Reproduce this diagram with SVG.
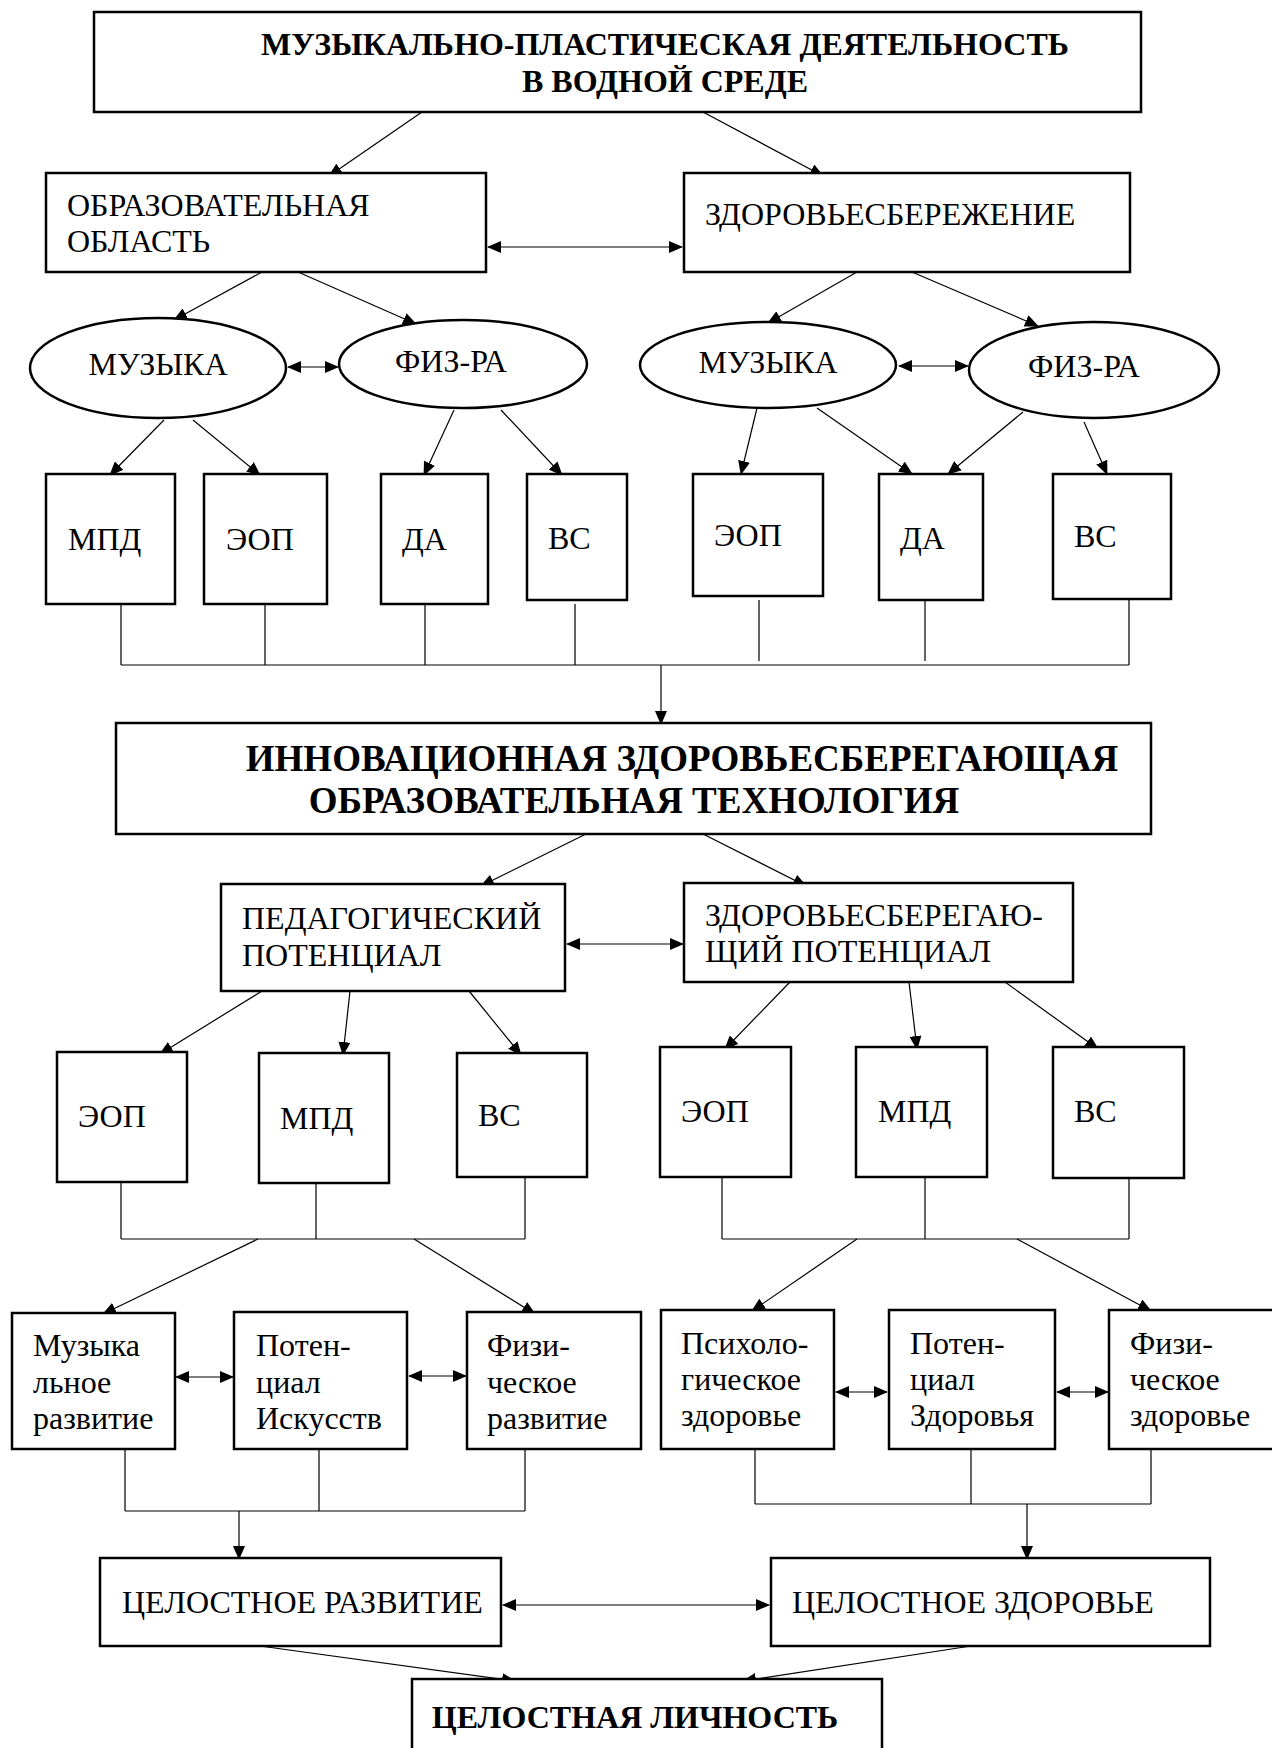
<svg xmlns="http://www.w3.org/2000/svg" width="1272" height="1748" viewBox="0 0 1272 1748">
<defs>
<marker id="ah" viewBox="0 0 14 12" refX="13" refY="6" markerWidth="14" markerHeight="12" markerUnits="userSpaceOnUse" orient="auto-start-reverse"><path d="M0,0 L14,6 L0,12 z" fill="#000"/></marker>
<style>
.box{fill:#fff;stroke:#000;stroke-width:2.5}
.ell{fill:#fff;stroke:#000;stroke-width:2.5}
.c{fill:none;stroke:#000;stroke-width:1.2}
.a{fill:none;stroke:#000;stroke-width:1.2;marker-end:url(#ah)}
.d{fill:none;stroke:#000;stroke-width:1.2;marker-start:url(#ah);marker-end:url(#ah)}
.t{font-family:"Liberation Serif","Times New Roman",serif;font-size:32px;fill:#000}
.b{font-family:"Liberation Serif","Times New Roman",serif;font-size:32px;font-weight:bold;fill:#000}
.h{font-size:37px}
.m{text-anchor:middle}
</style>
</defs>
<rect width="1272" height="1748" fill="#fff"/>
<g id="connectors">
<line class="a" x1="422" y1="112" x2="329" y2="176"/>
<line class="a" x1="703" y1="112" x2="823" y2="176"/>
<line class="d" x1="488" y1="247" x2="682" y2="247"/>
<line class="a" x1="262" y1="272" x2="174" y2="320"/>
<line class="a" x1="298" y1="272" x2="416" y2="324"/>
<line class="a" x1="857" y1="272" x2="768" y2="323"/>
<line class="a" x1="912" y1="272" x2="1038" y2="326"/>
<line class="d" x1="288" y1="367" x2="338" y2="367"/>
<line class="d" x1="899" y1="366" x2="968" y2="366"/>
<line class="a" x1="164" y1="420" x2="110" y2="475"/>
<line class="a" x1="193" y1="420" x2="260" y2="475"/>
<line class="a" x1="454" y1="410" x2="424" y2="475"/>
<line class="a" x1="501" y1="410" x2="562" y2="475"/>
<line class="a" x1="757" y1="408" x2="741" y2="474"/>
<line class="a" x1="817" y1="408" x2="912" y2="474"/>
<line class="a" x1="1023" y1="412" x2="948" y2="474"/>
<line class="a" x1="1084" y1="422" x2="1107" y2="474"/>
<path class="c" d="M121,604 V665 M265,604 V665 M425,604 V665 M575,604 V665 M759,600 V661 M925,600 V661 M1129,599 V665 M121,665 H1129"/>
<line class="a" x1="661" y1="665" x2="661" y2="724"/>
<line class="a" x1="586" y1="834" x2="481" y2="886"/>
<line class="a" x1="703" y1="834" x2="806" y2="886"/>
<line class="d" x1="567" y1="944" x2="683" y2="944"/>
<line class="a" x1="262" y1="991" x2="160" y2="1054"/>
<line class="a" x1="350" y1="991" x2="343" y2="1055"/>
<line class="a" x1="469" y1="991" x2="521" y2="1055"/>
<line class="a" x1="790" y1="982" x2="725" y2="1049"/>
<line class="a" x1="909" y1="982" x2="917" y2="1049"/>
<line class="a" x1="1005" y1="982" x2="1098" y2="1049"/>
<path class="c" d="M121,1182 V1239 M316,1183 V1239 M525,1177 V1239 M121,1239 H525 M722,1177 V1239 M925,1177 V1239 M1129,1178 V1239 M722,1239 H1129"/>
<line class="a" x1="258" y1="1239" x2="103" y2="1314"/>
<line class="a" x1="414" y1="1239" x2="535" y2="1314"/>
<line class="a" x1="857" y1="1239" x2="752" y2="1311"/>
<line class="a" x1="1017" y1="1239" x2="1151" y2="1311"/>
<line class="d" x1="176" y1="1377" x2="233" y2="1377"/>
<line class="d" x1="409" y1="1376" x2="466" y2="1376"/>
<line class="d" x1="836" y1="1392" x2="887" y2="1392"/>
<line class="d" x1="1057" y1="1392" x2="1108" y2="1392"/>
<path class="c" d="M125,1449 V1511 M319,1449 V1511 M525,1449 V1511 M125,1511 H525 M755,1449 V1504 M971,1449 V1504 M1151,1449 V1504 M755,1504 H1151"/>
<line class="a" x1="239" y1="1511" x2="239" y2="1559"/>
<line class="a" x1="1027" y1="1504" x2="1027" y2="1559"/>
<line class="d" x1="503" y1="1605" x2="769" y2="1605"/>
<line class="a" x1="260" y1="1646" x2="515" y2="1681"/>
<line class="a" x1="971" y1="1646" x2="743" y2="1681"/>
</g>
<g id="n-top"><rect class="box" x="94" y="12" width="1047" height="100"/>
<text class="b m" x="665" y="55">МУЗЫКАЛЬНО-ПЛАСТИЧЕСКАЯ ДЕЯТЕЛЬНОСТЬ</text>
<text class="b m" x="665" y="92">В ВОДНОЙ СРЕДЕ</text></g>
<g id="n-obr"><rect class="box" x="46" y="173" width="440" height="99"/>
<text class="t" x="67" y="216">ОБРАЗОВАТЕЛЬНАЯ</text><text class="t" x="67" y="252">ОБЛАСТЬ</text></g>
<g id="n-zdr"><rect class="box" x="684" y="173" width="446" height="99"/>
<text class="t" x="705" y="225">ЗДОРОВЬЕСБЕРЕЖЕНИЕ</text></g>
<g id="n-muz1"><ellipse class="ell" cx="158" cy="368" rx="128" ry="50"/><text class="t m" x="158" y="375">МУЗЫКА</text></g>
<g id="n-fiz1"><ellipse class="ell" cx="463" cy="364" rx="124" ry="44"/><text class="t m" x="451" y="372">ФИЗ-РА</text></g>
<g id="n-muz2"><ellipse class="ell" cx="768" cy="365" rx="128" ry="43"/><text class="t m" x="768" y="373">МУЗЫКА</text></g>
<g id="n-fiz2"><ellipse class="ell" cx="1094" cy="370" rx="125" ry="48"/><text class="t m" x="1084" y="377">ФИЗ-РА</text></g>
<g id="n-mpd1"><rect class="box" x="46" y="474" width="129" height="130"/><text class="t" x="68" y="550">МПД</text></g>
<g id="n-eop1"><rect class="box" x="204" y="474" width="123" height="130"/><text class="t" x="226" y="550">ЭОП</text></g>
<g id="n-da1"><rect class="box" x="381" y="474" width="107" height="130"/><text class="t" x="402" y="550">ДА</text></g>
<g id="n-vs1"><rect class="box" x="527" y="474" width="100" height="126"/><text class="t" x="548" y="549">ВС</text></g>
<g id="n-eop2"><rect class="box" x="693" y="474" width="130" height="122"/><text class="t" x="714" y="546">ЭОП</text></g>
<g id="n-da2"><rect class="box" x="879" y="474" width="104" height="126"/><text class="t" x="900" y="549">ДА</text></g>
<g id="n-vs2"><rect class="box" x="1053" y="474" width="118" height="125"/><text class="t" x="1074" y="547">ВС</text></g>
<g id="n-innov"><rect class="box" x="116" y="723" width="1035" height="111"/>
<text class="b h m" x="682" y="771">ИННОВАЦИОННАЯ ЗДОРОВЬЕСБЕРЕГАЮЩАЯ</text>
<text class="b h m" x="634" y="813">ОБРАЗОВАТЕЛЬНАЯ ТЕХНОЛОГИЯ</text></g>
<g id="n-ped"><rect class="box" x="221" y="884" width="344" height="107"/>
<text class="t" x="242" y="929">ПЕДАГОГИЧЕСКИЙ</text><text class="t" x="242" y="966">ПОТЕНЦИАЛ</text></g>
<g id="n-zpot"><rect class="box" x="684" y="883" width="389" height="99"/>
<text class="t" x="705" y="926">ЗДОРОВЬЕСБЕРЕГАЮ-</text><text class="t" x="705" y="962">ЩИЙ ПОТЕНЦИАЛ</text></g>
<g id="n-eop3"><rect class="box" x="57" y="1052" width="130" height="130"/><text class="t" x="78" y="1127">ЭОП</text></g>
<g id="n-mpd3"><rect class="box" x="259" y="1053" width="130" height="130"/><text class="t" x="280" y="1129">МПД</text></g>
<g id="n-vs3"><rect class="box" x="457" y="1053" width="130" height="124"/><text class="t" x="478" y="1126">ВС</text></g>
<g id="n-eop4"><rect class="box" x="660" y="1047" width="131" height="130"/><text class="t" x="681" y="1122">ЭОП</text></g>
<g id="n-mpd4"><rect class="box" x="856" y="1047" width="131" height="130"/><text class="t" x="878" y="1122">МПД</text></g>
<g id="n-vs4"><rect class="box" x="1053" y="1047" width="131" height="131"/><text class="t" x="1074" y="1122">ВС</text></g>
<g id="n-muzr"><rect class="box" x="12" y="1313" width="163" height="136"/>
<text class="t" x="33" y="1356">Музыка</text><text class="t" x="33" y="1393">льное</text><text class="t" x="33" y="1429">развитие</text></g>
<g id="n-poti"><rect class="box" x="234" y="1312" width="173" height="137"/>
<text class="t" x="256" y="1356">Потен-</text><text class="t" x="256" y="1393">циал</text><text class="t" x="256" y="1429">Искусств</text></g>
<g id="n-fizr"><rect class="box" x="467" y="1312" width="174" height="137"/>
<text class="t" x="487" y="1356">Физи-</text><text class="t" x="487" y="1393">ческое</text><text class="t" x="487" y="1429">развитие</text></g>
<g id="n-psy"><rect class="box" x="661" y="1310" width="173" height="139"/>
<text class="t" x="681" y="1354">Психоло-</text><text class="t" x="681" y="1390">гическое</text><text class="t" x="681" y="1426">здоровье</text></g>
<g id="n-potz"><rect class="box" x="889" y="1310" width="166" height="139"/>
<text class="t" x="910" y="1354">Потен-</text><text class="t" x="910" y="1390">циал</text><text class="t" x="910" y="1426">Здоровья</text></g>
<g id="n-fizz"><rect class="box" x="1109" y="1310" width="175" height="139"/>
<text class="t" x="1130" y="1354">Физи-</text><text class="t" x="1130" y="1390">ческое</text><text class="t" x="1130" y="1426">здоровье</text></g>
<g id="n-celr"><rect class="box" x="100" y="1558" width="401" height="88"/><text class="t" x="122" y="1613">ЦЕЛОСТНОЕ РАЗВИТИЕ</text></g>
<g id="n-celz"><rect class="box" x="771" y="1558" width="439" height="88"/><text class="t" x="792" y="1613">ЦЕЛОСТНОЕ ЗДОРОВЬЕ</text></g>
<g id="n-lich"><rect class="box" x="412" y="1679" width="470" height="90"/><text class="b m" x="635" y="1728">ЦЕЛОСТНАЯ ЛИЧНОСТЬ</text></g>
</svg>
